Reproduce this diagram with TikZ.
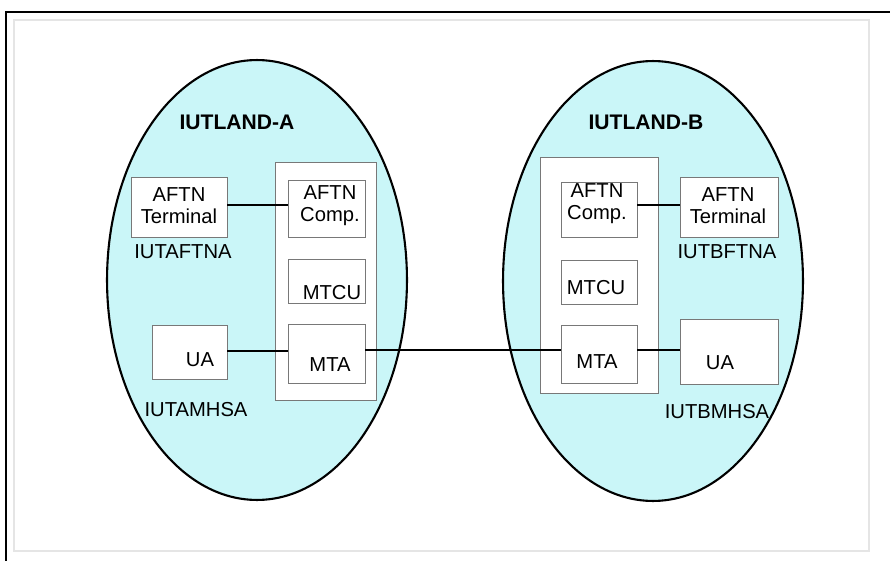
\documentclass[tikz,border=0pt]{standalone}
\usepackage{fontspec}
\setmainfont{Liberation Sans}
\usepackage{tikz}
\usetikzlibrary{positioning, shapes.geometric}
\definecolor{landcyan}{RGB}{202,246,248}
\definecolor{boxgray}{RGB}{120,120,120}
\tikzset{%
	land/.style={
		ellipse,
		draw=black,
		line width=1.2pt,
		fill=landcyan,
		inner sep=0pt,
		minimum width=6cm,
		minimum height=8.8cm
	},
	unitbox/.style={
		draw=boxgray,
		fill=white,
		line width=0.5pt,
		inner sep=0pt
	},
	boxtext/.style={
		font=\fontsize{11.5}{12.5}\selectfont,
		align=center,
		inner sep=0pt
	},
	landname/.style={
		font=\fontsize{12}{13}\selectfont\bfseries
	},
	iutname/.style={
		font=\fontsize{11.5}{13}\selectfont
	},
	link/.style={
		draw=black,
		line width=0.6pt
	}
}

\begin{document}
\begin{tikzpicture}[x=0.02cm, y=-0.02cm]
	\useasboundingbox (0,0) rectangle (890,561);
	
	% Draw the frame
	\draw[black!10, line width=0.6pt] (14,20) rectangle (869,551);
	\draw[line width=1.2pt] (6,561) -- (6,12) -- (890,12);
	
	% Draw the two lands
	\node[land] (landA) at (257,280) {};
	\node[land] (landB) at (653,281) {};
	\node[landname] (nameA) at (237,122) {IUTLAND-A};
	\node[landname] (nameB) at (646,122) {IUTLAND-B};
	
	% IUTLAND-A
	\node[unitbox, minimum width=101*0.02cm, minimum height=238*0.02cm] (contA) at (325.5,281) {};
	\node[unitbox, minimum width=96*0.02cm, minimum height=60*0.02cm] (termA) at (179,207) {};
	\node[unitbox, minimum width=77*0.02cm, minimum height=57*0.02cm] (compA) at (326.5,208.5) {};
	\node[unitbox, minimum width=77*0.02cm, minimum height=44*0.02cm] (mtcuA) at (326.5,281) {};
	\node[unitbox, minimum width=77*0.02cm, minimum height=59*0.02cm] (mtaA) at (326.5,353.5) {};
	\node[unitbox, minimum width=75*0.02cm, minimum height=54*0.02cm] (uaA) at (189.5,352) {};
	
	\node[boxtext] (termAtext) at (179,206) {AFTN\\Terminal};
	\node[boxtext] (compAtext) at (330,206) {AFTN\\Comp.};
	\node[boxtext] (mtcuAtext) at (332,293) {MTCU};
	\node[boxtext] (mtaAtext) at (330,365) {MTA};
	\node[boxtext] (uaAtext) at (200,360) {UA};
	\node[iutname] (aftnA) at (183,252) {IUTAFTNA};
	\node[iutname] (mhsA) at (196,410) {IUTAMHSA};
	
	% IUTLAND-B
	\node[unitbox, minimum width=118*0.02cm, minimum height=236*0.02cm] (contB) at (599,275) {};
	\node[unitbox, minimum width=76*0.02cm, minimum height=55*0.02cm] (compB) at (599,209.5) {};
	\node[unitbox, minimum width=76*0.02cm, minimum height=44*0.02cm] (mtcuB) at (599,282) {};
	\node[unitbox, minimum width=76*0.02cm, minimum height=58*0.02cm] (mtaB) at (599,354) {};
	\node[unitbox, minimum width=98*0.02cm, minimum height=60*0.02cm] (termB) at (729,207) {};
	\node[unitbox, minimum width=98*0.02cm, minimum height=65*0.02cm] (uaB) at (729,351.5) {};
	
	\node[boxtext] (compBtext) at (597,204) {AFTN\\Comp.};
	\node[boxtext] (mtcuBtext) at (596,288) {MTCU};
	\node[boxtext] (mtaBtext) at (597,362) {MTA};
	\node[boxtext] (termBtext) at (728,206) {AFTN\\Terminal};
	\node[boxtext] (uaBtext) at (720,363) {UA};
	\node[iutname] (aftnB) at (727,252) {IUTBFTNA};
	\node[iutname] (mhsB) at (717,412) {IUTBMHSA};
	
	% Draw the links
	\draw[link] (termA.east |- 0,205) -- (compA.west |- 0,205);
	\draw[link] (uaA.east |- 0,351) -- (mtaA.west |- 0,351);
	\draw[link, line width=1.1pt] (mtaA.east |- 0,350) -- (mtaB.west |- 0,350);
	\draw[link] (compB.east |- 0,205) -- (termB.west |- 0,205);
	\draw[link] (mtaB.east |- 0,350) -- (uaB.west |- 0,350);
	
\end{tikzpicture}
\end{document}
